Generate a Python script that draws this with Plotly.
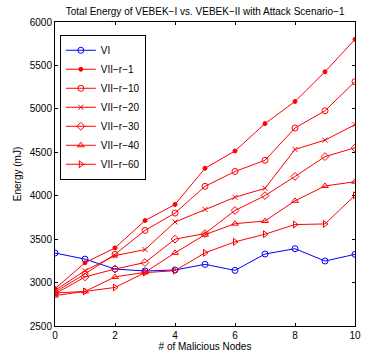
import plotly.graph_objects as go

x_nodes = [0, 1, 2, 3, 4, 5, 6, 7, 8, 9, 10]
vi = [3340, 3270, 3156, 3133, 3145, 3210, 3140, 3329, 3390, 3248, 3325]
vii_r1 = [2930, 3228, 3399, 3714, 3899, 4316, 4515, 4830, 5085, 5427, 5800]
vii_r10 = [2890, 3100, 3325, 3600, 3800, 4108, 4279, 4408, 4780, 4978, 5313]
vii_r20 = [2910, 3137, 3310, 3380, 3697, 3842, 3982, 4085, 4533, 4640, 4818]
vii_r30 = [2870, 3065, 3156, 3231, 3500, 3565, 3830, 4001, 4222, 4450, 4552]
vii_r40 = [2850, 2898, 3065, 3118, 3342, 3552, 3678, 3709, 3941, 4112, 4161]
vii_r60 = [2880, 2898, 2944, 3114, 3137, 3342, 3469, 3557, 3668, 3675, 4005]

series = [
    ("VI", vi, "blue", "circle-open", 6),
    ("VII\u2212r\u22121", vii_r1, "red", "circle", 4),
    ("VII\u2212r\u221210", vii_r10, "red", "circle-open", 6),
    ("VII\u2212r\u221220", vii_r20, "red", "x-thin-open", 5),
    ("VII\u2212r\u221230", vii_r30, "red", "diamond-open", 6),
    ("VII\u2212r\u221240", vii_r40, "red", "triangle-up-open", 6),
    ("VII\u2212r\u221260", vii_r60, "red", "triangle-right-open", 6),
]

fig = go.Figure()
for name, ys, col, sym, sz in series:
    fig.add_trace(go.Scatter(
        x=x_nodes, y=ys, name=name, mode="lines+markers",
        line=dict(color=col, width=1),
        marker=dict(symbol=sym, size=sz, color=col, line=dict(color=col, width=1)),
    ))

font_family = "Liberation Sans, Arial, sans-serif"
fig.update_layout(
    width=373, height=362,
    margin=dict(l=55, r=14, t=22, b=32),
    paper_bgcolor="white", plot_bgcolor="white",
    font=dict(family=font_family, size=10, color="black"),
    title=dict(text="Total Energy of VEBEK\u2212I vs. VEBEK\u2212II with Attack Scenario\u22121",
               x=0.55, xanchor="center", y=0.967, yanchor="middle",
               font=dict(size=10, family=font_family)),
    showlegend=True,
    legend=dict(x=0.016, y=0.958, xanchor="left", yanchor="top",
                bgcolor="white", bordercolor="black", borderwidth=1,
                font=dict(size=10, family=font_family),
                tracegroupgap=0, itemwidth=30, entrywidth=30,
                entrywidthmode="pixels"),
    xaxis=dict(range=[0, 10], tickvals=[0, 2, 4, 6, 8, 10], ticks="inside",
               ticklen=3, tickcolor="black", showline=True, linecolor="black",
               linewidth=1, mirror="ticks", showgrid=False, zeroline=False,
               title=dict(text="# of Malicious Nodes", standoff=2, font=dict(size=10))),
    yaxis=dict(range=[2500, 6000], tickvals=[2500, 3000, 3500, 4000, 4500, 5000, 5500, 6000],
               ticks="inside", ticklen=3, tickcolor="black", showline=True,
               linecolor="black", linewidth=1, mirror="ticks", showgrid=False,
               zeroline=False,
               title=dict(text="Energy (mJ)", standoff=6, font=dict(size=10))),
)

fig.write_html("out.html")
